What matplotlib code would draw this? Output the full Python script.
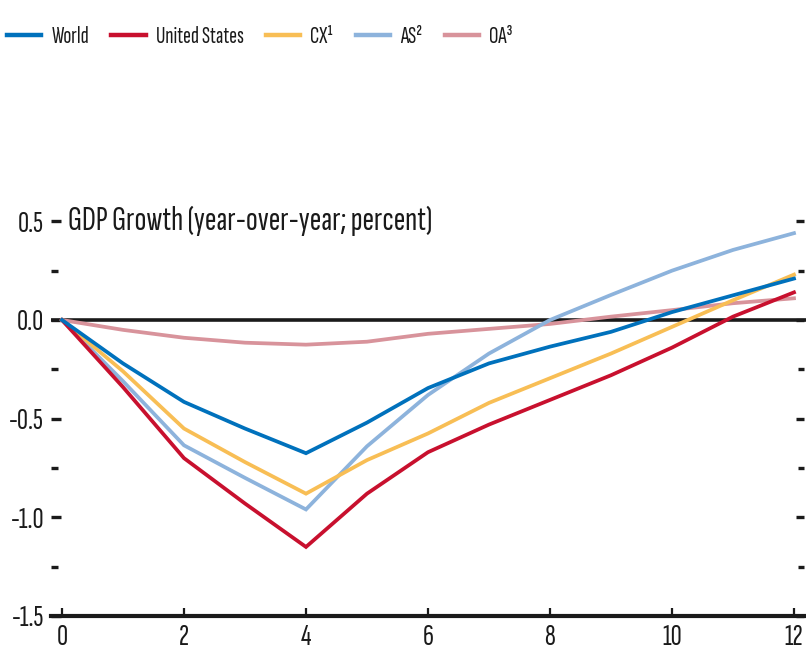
import matplotlib
matplotlib.use("Agg")
import matplotlib.pyplot as plt
from matplotlib.lines import Line2D
import matplotlib.transforms as mtransforms

plt.rcParams['font.family'] = ['Sofia Sans Extra Condensed', 'Saira Extra Condensed',
                               'Roboto Condensed', 'Liberation Sans', 'DejaVu Sans']

# Quarters after the shock
quarters = [0, 1, 2, 3, 4, 5, 6, 7, 8, 9, 10, 11, 12]

# GDP growth responses (year-over-year; percent)
world = [0, -0.22, -0.415, -0.55, -0.675, -0.52, -0.345, -0.22, -0.135, -0.06, 0.04, 0.125, 0.21]
united_states = [0, -0.34, -0.70, -0.93, -1.15, -0.88, -0.67, -0.53, -0.405, -0.28, -0.14, 0.017, 0.14]
cx = [0, -0.26, -0.55, -0.72, -0.88, -0.71, -0.575, -0.42, -0.295, -0.17, -0.035, 0.10, 0.23]
as_ = [0, -0.31, -0.635, -0.80, -0.96, -0.64, -0.38, -0.17, 0.0, 0.127, 0.25, 0.355, 0.44]
oa = [0, -0.05, -0.09, -0.115, -0.125, -0.11, -0.07, -0.045, -0.02, 0.017, 0.05, 0.085, 0.11]

series_labels = ["World", "United States", "CX¹", "AS²", "OA³"]
series_colors = ["#0071BC", "#C8102E", "#F8BE55", "#8DB3DC", "#D8939B"]

x_ticks = [0, 2, 4, 6, 8, 10, 12]
y_major = [-1.5, -1.0, -0.5, 0.0, 0.5]
y_minor = [-1.25, -0.75, -0.25, 0.25]
y_tick_labels = ["-1.5", "-1.0", "-0.5", "0.0", "0.5"]
title = "GDP Growth (year-over-year; percent)"

W, H = 806, 661
fig = plt.figure(figsize=(W / 100, H / 100), dpi=100)
ax_left, ax_right, ax_bottom = 51, 806, 616
ymin, ymax = -1.5, 0.6
px_per_unit = (616 - 320) / 1.5
ax_h = (ymax - ymin) * px_per_unit
ax = fig.add_axes([ax_left / W, (H - ax_bottom) / H, (ax_right - ax_left) / W, ax_h / H])

ax.set_xlim(-0.18, 12.197)
ax.set_ylim(ymin, ymax)

ax.axhline(0, color="#1a1a1a", lw=2.6, zorder=1.5)

data = [world, united_states, cx, as_, oa]
order = [4, 3, 2, 1, 0]
for i in order:
    ax.plot(quarters, data[i], color=series_colors[i], lw=2.7,
            solid_joinstyle="miter", zorder=2 + (4 - i) * 0.1)

for side in ["top", "left", "right"]:
    ax.spines[side].set_visible(False)
ax.spines["bottom"].set_linewidth(3.0)
ax.spines["bottom"].set_color("#1a1a1a")

ax.set_xticks(x_ticks)
ax.set_xticklabels([str(v) for v in x_ticks])
ax.tick_params(axis="x", direction="in", length=6, width=1.6, color="#1a1a1a",
               labelsize=22, pad=6, labelcolor="#1a1a1a")

ax.set_yticks(y_major)
ax.set_yticklabels(y_tick_labels)
ax.set_yticks(y_minor, minor=True)
ax.tick_params(axis="y", which="major", direction="in", length=7.5, width=2.4,
               color="#1a1a1a", labelsize=22, pad=5, labelcolor="#1a1a1a")
ax.tick_params(axis="y", which="minor", direction="in", length=5, width=2.4,
               color="#1a1a1a")

# Right-hand tick marks, drawn just inside the right edge
sec = ax.secondary_yaxis(0.9975)
sec.set_yticks(y_major)
sec.set_yticks(y_minor, minor=True)
sec.set_yticklabels([])
sec.spines[:].set_visible(False)
sec.tick_params(axis="y", which="major", direction="out", length=6, width=2.4,
                color="#1a1a1a", left=True, right=False)
sec.tick_params(axis="y", which="minor", direction="out", length=4, width=2.4,
                color="#1a1a1a", left=True, right=False)

trans = mtransforms.blended_transform_factory(ax.transAxes, ax.transData)
ax.text((68 - ax_left) / (ax_right - ax_left), 0.5, title, transform=trans,
        ha="left", va="center", fontsize=25, color="#1a1a1a")

handles = [Line2D([], [], color=c, lw=3.2) for c in series_colors]
fig.legend(handles, series_labels, loc="center left", bbox_to_anchor=(0.0, 1 - 37 / H),
           ncol=5, frameon=False, fontsize=17, handlelength=1.45, handletextpad=0.42,
           columnspacing=0.95, borderaxespad=0, borderpad=0.3, labelcolor="#1a1a1a")

fig.savefig("out.png", dpi=100)
